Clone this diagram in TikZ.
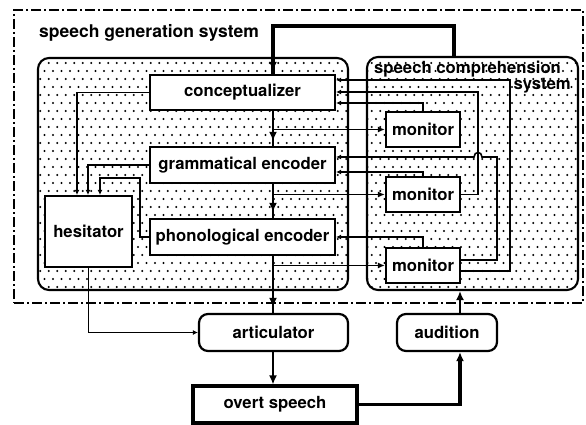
\documentclass[tikz,border=0pt]{standalone}
\usepackage{fontspec}
\setmainfont{TeX Gyre Heros}
\usetikzlibrary{arrows.meta,patterns,decorations.markings,calc}

% sparse staggered dot screen used for the two system areas
\pgfdeclarepatternformonly{sparsedots}{\pgfqpoint{-1pt}{-1pt}}{\pgfqpoint{9pt}{17pt}}{\pgfqpoint{8.5pt}{16pt}}{%
  \pgfpathcircle{\pgfqpoint{2pt}{2pt}}{1.05pt}%
  \pgfpathcircle{\pgfqpoint{6.25pt}{10pt}}{1.05pt}%
  \pgfusepath{fill}}

\begin{document}
\begin{tikzpicture}[x=1pt,y=-1pt,
  lbl/.style={font=\fontsize{16.7}{18}\selectfont\bfseries},
  block/.style={draw, line width=2.2pt, fill=white, inner sep=0pt, lbl},
  rblock/.style={block, rounded corners=9pt},
  area/.style={draw, line width=2.1pt, rounded corners=11pt, pattern=sparsedots, inner sep=0pt},
  wire/.style={line width=1.6pt},
  heavy/.style={line width=3.2pt},
  flowarrow/.style={-{Latex[length=7pt,width=6pt]}},
  bigarrow/.style={-{Latex[length=9pt,width=8pt]}},
  backarrow/.style={-{Latex[length=5pt,width=5pt]}},
  tipbefore/.style={postaction={decorate},
    decoration={markings, mark=at position #1 with {\arrow{Latex[length=9pt,width=8pt]}}}}]
\useasboundingbox (0,0) rectangle (586,425);

% enclosing dash-dot frame and the two system areas
\node[draw, line width=1.4pt, dash pattern=on 10pt off 3pt on 2pt off 3pt,
      minimum width=569pt, minimum height=293pt, inner sep=0pt] (sys) at (298.5,156.5) {};
\node[area, minimum width=310pt, minimum height=232pt] (gen) at (193,174) {};
\node[area, minimum width=211pt, minimum height=233pt] (comp) at (472.5,173.5) {};

\node[lbl, font=\fontsize{17.5}{19}\selectfont\bfseries, anchor=base west, inner sep=0pt] (genlabel) at (39,38) {speech generation system};
\node[lbl, anchor=base west, inner sep=0pt] (complabela) at (374,74) {speech comprehension};
\node[lbl, anchor=base east, inner sep=0pt] (complabelb) at (571,90) {system};

% processing components
\node[block, minimum width=185pt, minimum height=35pt] (conc) at (242.5,92.5) {conceptualizer};
\node[block, minimum width=185pt, minimum height=36pt] (gram) at (242.5,165) {grammatical encoder};
\node[block, minimum width=185pt, minimum height=36pt] (phon) at (242.5,237) {phonological encoder};
\node[block, minimum width=87pt, minimum height=71pt] (hes) at (88.5,231.5) {hesitator};
\node[block, minimum width=74pt, minimum height=35pt] (mon1) at (423,129.5) {monitor};
\node[block, minimum width=74pt, minimum height=35pt] (mon2) at (423,194.5) {monitor};
\node[block, minimum width=74pt, minimum height=35pt] (mon3) at (423,265.5) {monitor};
\node[rblock, minimum width=149pt, minimum height=37pt] (artic) at (273.5,332.5) {articulator};
\node[rblock, minimum width=100pt, minimum height=37pt] (aud) at (447,332.5) {audition};
\node[block, line width=3.2pt, minimum width=164pt, minimum height=37pt] (overt) at (275,404.5) {overt speech};

% routing coordinates
\coordinate (spine) at (273,0);
\coordinate (fbx) at (454,26);
\coordinate (xS) at (460,0);
\coordinate (xP) at (478,0);
\coordinate (xQ) at (497,0);
\coordinate (xR) at (510,0);
\coordinate (yA) at (0,80);
\coordinate (yB) at (0,92);
\coordinate (yC) at (0,103);
\coordinate (yD) at (0,157);
\coordinate (yE) at (0,172);
\coordinate (yF) at (0,237);
\coordinate (yG) at (0,260);
\coordinate (yH) at (0,271);
\coordinate (xa) at (77,0);
\coordinate (xb) at (88,0);
\coordinate (xc) at (100,0);
\coordinate (xd) at (140,0);
\coordinate (ye) at (0,178);

% main production chain
\draw[heavy, tipbefore=-3pt] (comp.north -| fbx) -- (fbx) -- (fbx -| spine) -- (conc.north -| spine);
\draw[wire, tipbefore=-5pt] (conc.south -| spine) -- (gram.north -| spine);
\draw[wire, tipbefore=-6pt] (gram.south -| spine) -- (phon.north -| spine);
\draw[wire, tipbefore=-6pt] (phon.south -| spine) -- (artic.north -| spine);
\draw[wire, bigarrow] (artic.south -| spine) -- (overt.north -| spine);

% copies of each output to the monitors
\draw[wire, flowarrow] (spine |- mon1.west) -- (mon1.west);
\draw[wire, flowarrow] (spine |- mon2.west) -- (mon2.west);
\draw[wire, flowarrow] (spine |- mon3.west) -- (mon3.west);

% monitor feedback
\draw[wire, backarrow] (mon1.north) -- (mon1.north |- yC) -- (conc.east |- yC);
\draw[wire, backarrow] (mon2.east) -- (xP |- mon2.east) -- (xP |- yB) -- (conc.east |- yB);
\draw[wire, backarrow] (mon3.east |- yH) -- (xR |- yH) -- (xR |- yA) -- (conc.east |- yA);
\draw[wire, backarrow] (mon2.north) -- (mon2.north |- yE) -- (gram.east |- yE);
\draw[wire, backarrow] (mon3.east |- yG) -- (xQ |- yG) -- (xQ |- yD) -- ($(xP |- yD)+(4,0)$)
   .. controls +(0,-6) and +(0,-6) .. ($(xP |- yD)+(-4,0)$) -- (gram.east |- yD);
\draw[wire, backarrow] (mon3.north) -- (mon3.north |- yF) -- (phon.east |- yF);

% hesitator inputs and output
\draw[wire, backarrow] (conc.west) -- (xa |- conc.west) -- (xa |- hes.north);
\draw[wire, backarrow] (gram.west) -- (xb |- gram.west) -- (xb |- hes.north);
\draw[wire, backarrow] (phon.west) -- (xd |- phon.west) -- (xd |- ye) -- (xc |- ye) -- (xc |- hes.north);
\draw[wire, backarrow] (hes.south) |- (artic.west);

% perception loop
\draw[heavy, bigarrow] (overt.east) -| (xS |- aud.south);
\draw[wire, bigarrow] (xS |- aud.north) -- (xS |- comp.south);
\end{tikzpicture}
\end{document}
